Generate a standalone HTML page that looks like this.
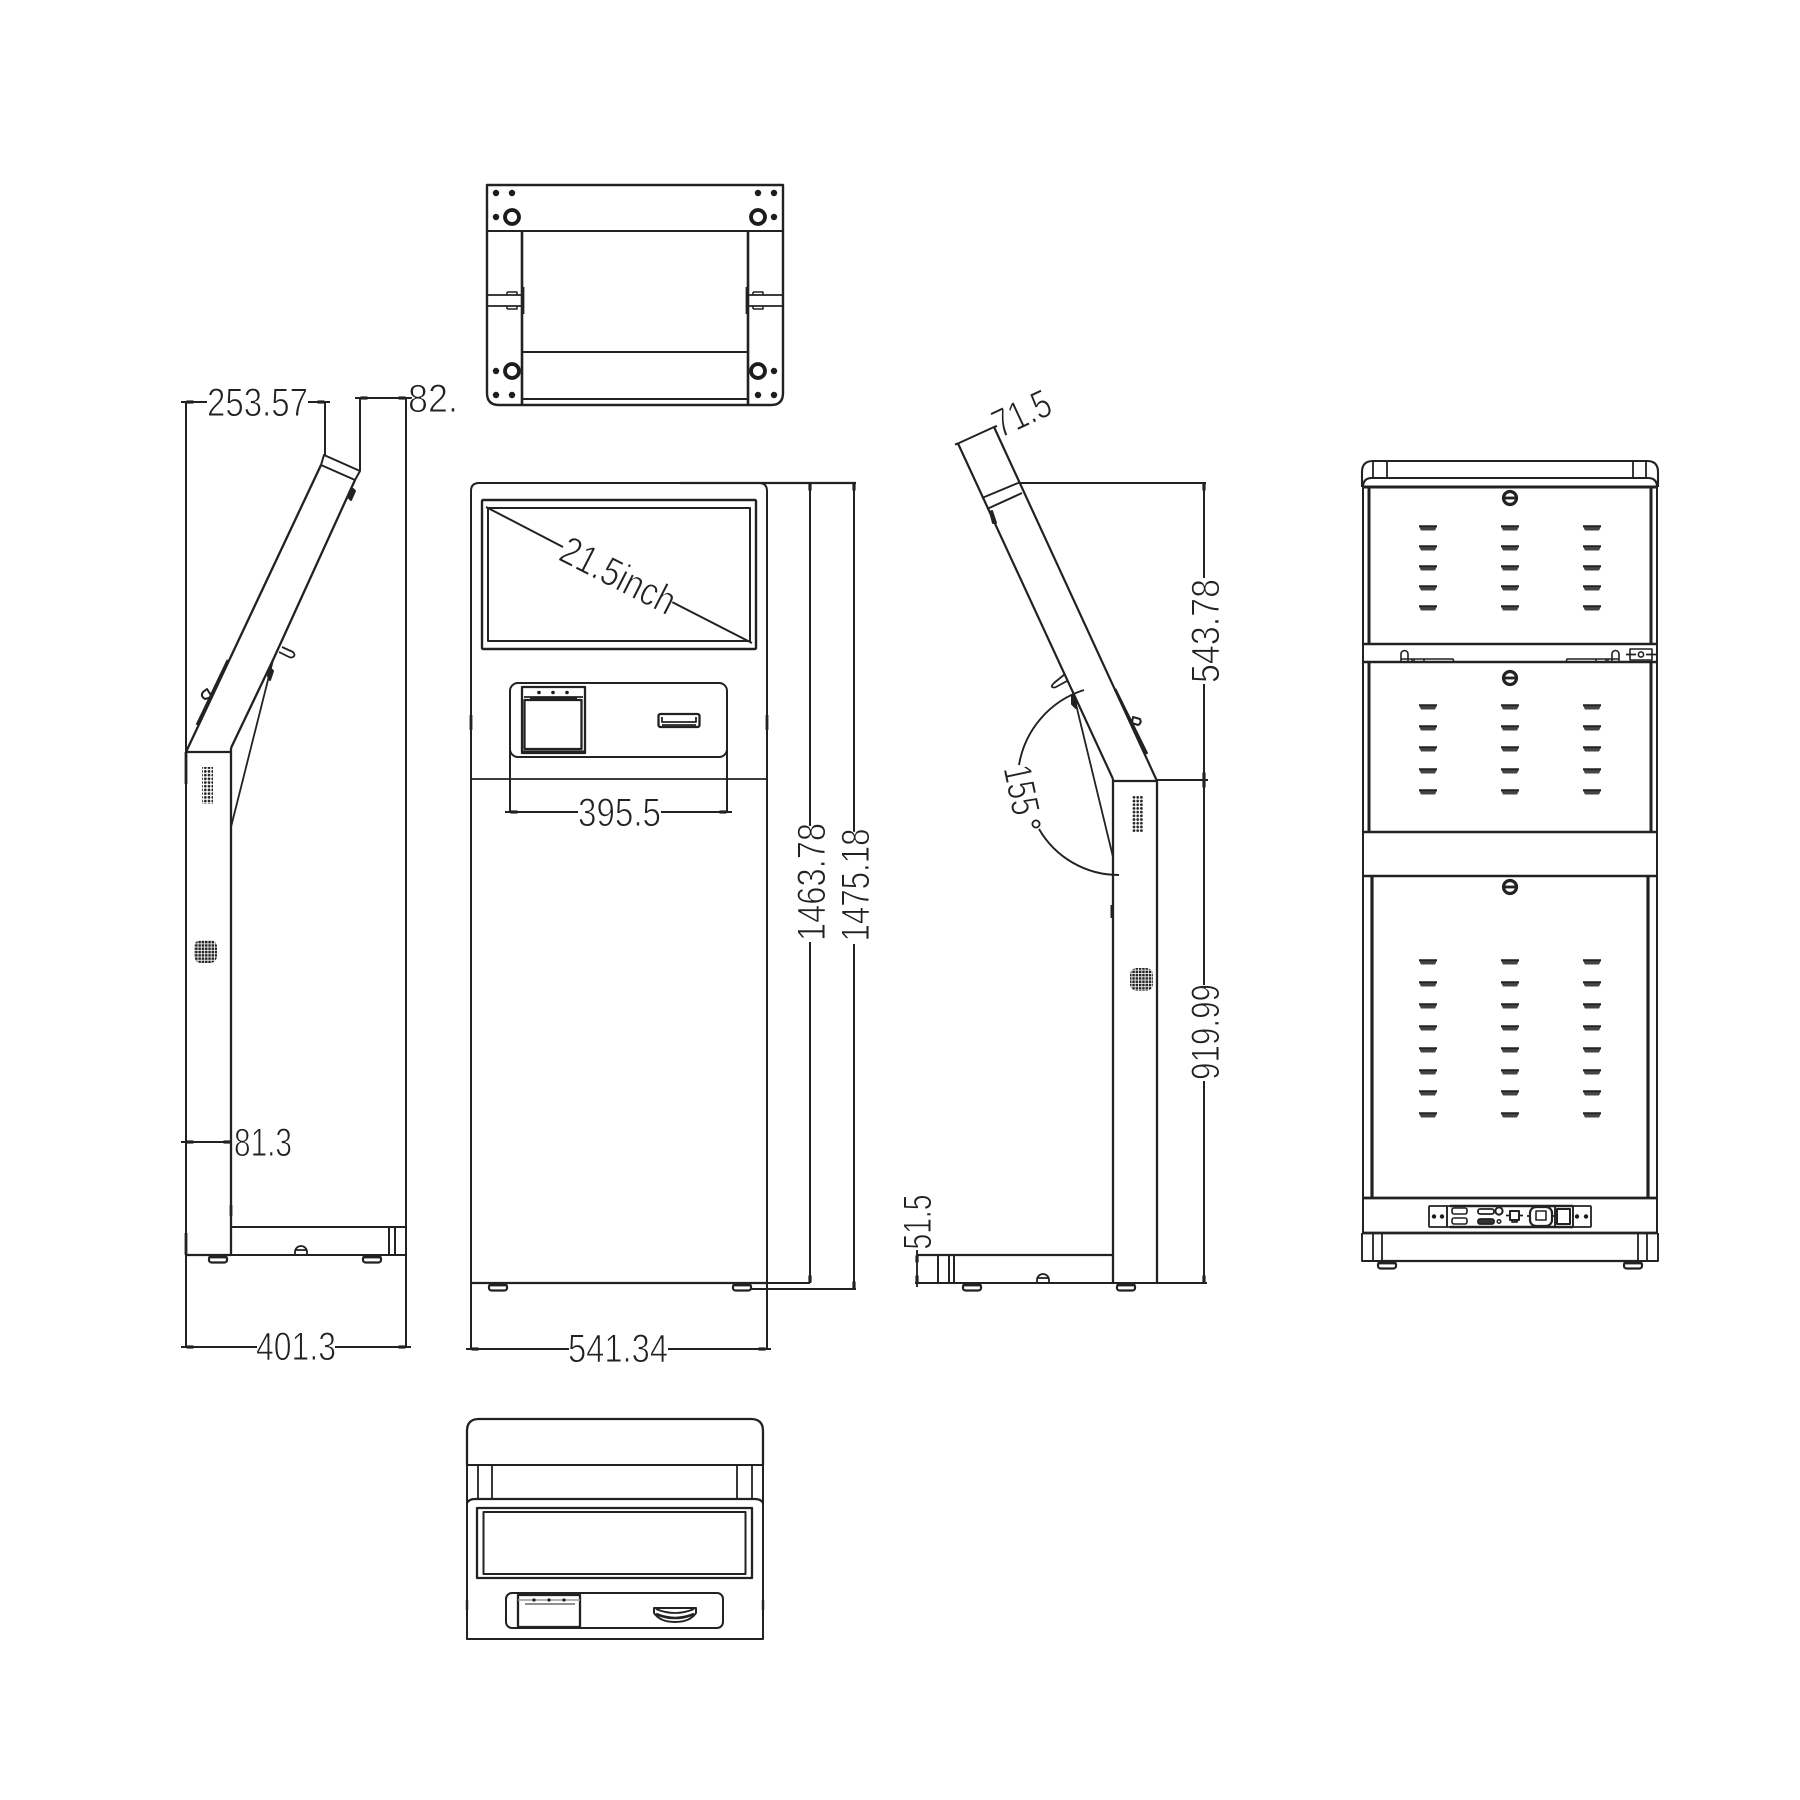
<!DOCTYPE html>
<html><head><meta charset="utf-8"><style>
html,body{margin:0;padding:0;background:#fff}
svg{display:block;filter:blur(.35px)}
.t{font-family:"Liberation Sans",sans-serif;font-size:40px;fill:#222;stroke:#fff;stroke-width:.95px}
</style></head><body>
<svg xmlns="http://www.w3.org/2000/svg" width="1800" height="1800" viewBox="0 0 1800 1800">
<defs>
<clipPath id="c82"><rect x="400" y="370" width="59" height="60"/></clipPath>
<g id="vent"><path d="M-9-1.5H9L7 2.5H-7Z" fill="#444"/><path d="M-9-1.8H9" stroke="#222" stroke-width="1.8"/></g>
<g id="knob"><circle r="6.5" fill="#fff" stroke="#222" stroke-width="3.2"/><path d="M-6 0H6" stroke="#222" stroke-width="2.8"/></g>
<g id="ring"><circle r="7" fill="#fff" stroke="#1c1c1c" stroke-width="3.8"/></g>
<g id="foot"><rect x="-9" y="0" width="18" height="6.5" rx="2.5" fill="#fff" stroke="#222" stroke-width="2.2"/><rect x="-8" y="0" width="16" height="2.4" fill="#222"/></g>
<pattern id="spk" width="3.7" height="3.7" patternUnits="userSpaceOnUse"><circle cx="1.8" cy="1.8" r="1.35" fill="#222"/></pattern>
<pattern id="spk2" width="3.3" height="3.3" patternUnits="userSpaceOnUse"><rect x=".4" y=".4" width="2.5" height="2.5" fill="#222"/></pattern>
<g id="v3"><use href="#vent" x="1428"/><use href="#vent" x="1510"/><use href="#vent" x="1592"/></g>
<g id="hd"><path d="M-3.5 0H3.5" stroke="#222" stroke-width="3.2"/></g>
<g id="vd"><path d="M0-3.5V3.5" stroke="#222" stroke-width="3.2"/></g>
</defs>

<g fill="none" stroke="#222" stroke-width="2" stroke-linecap="butt" stroke-linejoin="round">

<!-- TOP VIEW -->
<path d="M487 185H783V393Q783 405 771 405H499Q487 405 487 393Z" stroke-width="2.4"/>
<path d="M487 231H783"/>
<path d="M522 231V405M748 231V405" stroke-width="2.6"/>
<path d="M522 352H748M522 399H748"/>
<path d="M487 295H522M487 306H522M748 295H783M748 306H783" stroke-width="1.8"/>
<path d="M507 292H517V295M507 292V295M507 309H517V306M507 309V306M753 292H763V295M753 292V295M753 309H763V306M753 309V306" stroke-width="1.5"/>
<path d="M523 287V314M747 287V314" stroke-width="2.8"/>

<!-- LEFT SIDE VIEW -->
<path d="M181 402H207M308 402H330M355 398H406M406 398H412"/>
<path d="M186 402V1347M325 402V455M360 398V471M406 398V1347"/>
<path d="M324 455L360 471L355 480L321 465Z"/>
<path d="M321 465L186 752M355 480L273 660L231 748" stroke-width="2.3"/>
<path d="M273 660L231 827" stroke-width="1.8"/>
<path d="M186 752H231M231 748V1255M186 1255H231" stroke-width="2.3"/>
<path d="M231 1227H406M231 1255H406" stroke-width="2.1"/>
<path d="M389 1227V1255M395 1227V1255"/>
<path d="M295 1255V1252A6 6 0 0 1 307 1252V1255M295 1250H307" stroke-width="1.8"/>
<path d="M228 660L197 725" stroke-width="2.8"/>
<path d="M207 689L212 697L205 699Q200 696 203 692Z" stroke-width="2"/>
<path d="M282 647L293 652Q296 655 293 657Q291 658 289 657L279 652" stroke-width="1.8"/>
<path d="M270 668L273 671L270 680L268 676Z" fill="#222"/>
<path d="M353 489L355 491L351 500L349 498Z" fill="#222"/>
<path d="M186 752V784M186 1233V1255" stroke-width="2.8"/>
<path d="M231 1205V1216" stroke-width="2.8"/>
<path d="M181 1142H231" stroke-width="1.9"/>
<path d="M181 1347H257M335 1347H411"/>

<!-- FRONT VIEW -->
<path d="M471 1283V491Q471 483 479 483H759Q767 483 767 491V1349"/>
<path d="M471 779H767" stroke-width="1.8"/>
<path d="M471 1283H767" stroke-width="2.3"/>
<path d="M471 1283V1349"/>
<path d="M680 483H856" stroke-width="2.3"/>
<rect x="482" y="500" width="274" height="149" stroke-width="2.4" rx="1"/>
<rect x="488" y="508" width="262" height="133"/>
<path d="M486 507L563 547M672 602L752 643"/>
<rect x="510" y="683" width="217" height="74" rx="8"/>
<rect x="522" y="687" width="63" height="66" stroke-width="2.3"/>
<path d="M524 697H583" stroke-width="1.8"/>
<rect x="524.500" y="700" width="57" height="49" stroke-width="2.3"/>
<path d="M530 698H577" stroke-width="2.3"/>
<path d="M522 752H585" stroke-width="3.2"/>
<rect x="658.500" y="714" width="41" height="13" rx="2" stroke-width="2.3"/>
<path d="M662 717V722H696V717M662 725H696" stroke-width="1.8"/>
<path d="M510 727V812M727 727V812"/>
<path d="M505 812H578M661 812H732"/>
<path d="M471 715V730M767 715V730" stroke-width="2.8"/>
<path d="M810 483V826M810 942V1283M854 483V832M854 944V1289"/>
<path d="M750 1283H810M733 1289H856" stroke-width="1.9"/>
<path d="M466 1349H569M668 1349H771"/>

<!-- RIGHT SIDE VIEW -->
<path d="M955 444.500L958 443.500L994 427L997 426"/>
<path d="M958 443.500L1113 779M994 427L1157 781" stroke-width="2.2"/>
<path d="M982 498L1018 483M987 509L1022 493"/>
<path d="M1018 483H1206M1157 780H1208" stroke-width="1.9"/>
<path d="M1204 483V578M1204 684V985M1204 1081V1283"/>
<path d="M1113 781H1157M1157 781V1283M1113 779V1283" stroke-width="2.3"/>
<path d="M1073 692L1113 857" stroke-width="1.8"/>
<path d="M1084 690A95 95 0 0 0 1019 765M1039 829A92 92 0 0 0 1119 875" stroke-width="1.9"/>
<circle cx="1036" cy="824" r="3.6" stroke-width="1.8"/>
<path d="M1115 689L1147 754" stroke-width="2.8"/>
<path d="M1133 717L1140 719Q1142 723 1138 725L1132 723Z" stroke-width="2"/>
<path d="M1065 674L1054 683Q1051 686 1052 687Q1054 688 1056 687L1067 681" stroke-width="1.8"/>
<path d="M1072 695L1076 699L1076 708L1072 704Z" fill="#222"/>
<path d="M990 512L992 511L996 523L993 523Z" fill="#222"/>
<path d="M1112 905V918" stroke-width="3"/>
<path d="M917 1255H1113" stroke-width="2.3"/>
<path d="M915 1283H1207"/>
<path d="M938 1255V1283M949 1255V1283M954 1255V1283"/>
<path d="M917 1250V1287" stroke-width="1.9"/>
<path d="M1037 1283V1280A6 6 0 0 1 1049 1280V1283M1037 1278H1049" stroke-width="1.8"/>

<!-- BACK VIEW -->
<path d="M1362 487V472Q1362 461 1373 461H1647Q1658 461 1658 472V487" stroke-width="2.1"/>
<path d="M1373 461V478M1387 461V478M1633 461V478M1646 461V478" stroke-width="1.8"/>
<path d="M1363 487Q1363 478 1372 478H1648Q1657 478 1657 487" stroke-width="2.1"/>
<path d="M1363 487H1657" stroke-width="3"/>
<path d="M1363 487V876M1657 487V876" stroke-width="2"/>
<path d="M1369 487V644M1651 487V644M1369 662V832M1651 662V832" stroke-width="3"/>
<path d="M1363 644H1657M1363 662H1657M1363 832H1657M1363 876H1657" stroke-width="2.6"/>
<path d="M1363 876V1233M1657 876V1233" stroke-width="2"/>
<path d="M1372 876V1198M1648 876V1198" stroke-width="3.2"/>
<path d="M1362 1198H1658M1362 1233H1658" stroke-width="2.8"/>
<path d="M1362 1233V1261H1658V1233" stroke-width="1.9"/>
<path d="M1373 1233V1261M1382 1233V1261M1638 1233V1261M1647 1233V1261" stroke-width="1.8"/>
<path d="M1382 1261H1638" stroke-width="2.3"/>
<!-- hinges -->
<path d="M1401 661V654A3.500 3.500 0 0 1 1408 654V661M1401 659H1412V662M1412 659H1453Q1453 659 1454 662M1414 659V662M1424 659V662" stroke-width="1.6"/>
<path d="M1619 661V654A3.500 3.500 0 0 0 1612 654V661M1619 659H1608V662M1608 659H1567Q1567 659 1566 662M1606 659V662M1596 659V662" stroke-width="1.6"/>
<rect x="1630" y="649" width="22" height="11" stroke-width="1.6"/>
<circle cx="1641" cy="654.500" r="2.6" stroke-width="1.6"/>
<path d="M1626 654.500H1636M1646 654.500H1656" stroke-width="1.8"/>
<!-- IO panel -->
<path d="M1430 1206H1590Q1591 1206 1591 1207V1226Q1591 1227 1590 1227H1430Q1429 1227 1429 1226V1207Q1429 1206 1430 1206Z" stroke-width="1.8"/>
<path d="M1447 1206V1227M1555 1206V1227M1573 1206V1227" stroke-width="1.9"/>
<path d="M1450 1206H1573M1450 1227H1573" stroke-width="2.4"/>
<rect x="1452" y="1208" width="15" height="6" rx="2" stroke-width="1.6"/>
<rect x="1452" y="1218" width="15" height="6" rx="2" stroke-width="1.6"/>
<rect x="1478" y="1209" width="16" height="5" rx="2" stroke-width="1.8"/>
<rect x="1478" y="1219" width="16" height="5" rx="2" fill="#333" stroke-width="1.8"/>
<circle cx="1499" cy="1211" r="3.600" stroke-width="2"/>
<circle cx="1499" cy="1221.500" r="1.800" stroke-width="1.5"/>
<rect x="1510" y="1211" width="9" height="9" stroke-width="2"/>
<path d="M1506 1215.500H1510M1519 1215.500H1523M1512 1220H1517V1222H1512Z" stroke-width="1.8"/>
<rect x="1530" y="1207" width="22" height="19" rx="6" stroke-width="2.2"/>
<path d="M1536 1211H1546V1220H1536Z" stroke-width="1.6"/>
<path d="M1527 1216H1530M1552 1216H1556" stroke-width="1.8"/>
<rect x="1557" y="1209" width="13" height="15" stroke-width="2"/>
<!-- BOTTOM VIEW -->
<path d="M467 1465V1431Q467 1419 479 1419H751Q763 1419 763 1431V1465" stroke-width="2.3"/>
<path d="M467 1465H763"/>
<path d="M467 1465V1639H763V1465"/>
<path d="M478 1465V1499M492 1465V1499M737 1465V1499M752 1465V1499" stroke-width="1.8"/>
<path d="M467 1503Q469 1499 475 1499H755Q761 1499 763 1503" stroke-width="2.2"/>
<rect x="477" y="1508" width="275" height="70" stroke-width="2.3"/>
<rect x="483.500" y="1512" width="262" height="62"/>
<rect x="506" y="1593" width="217" height="35" rx="6"/>
<path d="M518 1628V1595H580V1628M518 1627H580" stroke-width="2.3"/>
<path d="M518 1600H580" stroke-width="1.4" stroke="#999"/>
<path d="M525 1604H575" stroke-width="1"/>
<path d="M654 1608H696V1613Q690 1622 675 1622Q660 1622 654 1613Z"/>
<path d="M656 1609Q675 1617 694 1609" stroke-width="1.8"/>
<path d="M656 1614Q675 1622 694 1614" stroke-width="2.6"/>
<path d="M467 1600V1610M763 1600V1610" stroke-width="2.4"/>
</g>

<!-- dots top view -->
<g fill="#1c1c1c">
<circle cx="496" cy="193" r="3.2"/><circle cx="512" cy="193" r="3.2"/><circle cx="758" cy="193" r="3.2"/><circle cx="774" cy="193" r="3.2"/>
<circle cx="496" cy="217" r="3.2"/><circle cx="774" cy="217" r="3.2"/>
<circle cx="496" cy="371" r="3.2"/><circle cx="774" cy="371" r="3.2"/>
<circle cx="496" cy="395" r="3.2"/><circle cx="512" cy="395" r="3.2"/><circle cx="758" cy="395" r="3.2"/><circle cx="774" cy="395" r="3.2"/>
<circle cx="539" cy="692.500" r="1.800"/><circle cx="553" cy="692.500" r="1.800"/><circle cx="567" cy="692.500" r="1.800"/>
<circle cx="534" cy="1600" r="1.600"/><circle cx="549" cy="1600" r="1.600"/><circle cx="564" cy="1600" r="1.600"/>
<circle cx="1434" cy="1216.500" r="2.2"/><circle cx="1442" cy="1216.500" r="2.2"/><circle cx="1577" cy="1216.500" r="2.2"/><circle cx="1586" cy="1216.500" r="2.2"/>
</g>
<use href="#ring" x="512" y="217"/><use href="#ring" x="758" y="217"/><use href="#ring" x="512" y="371"/><use href="#ring" x="758" y="371"/>

<!-- feet -->
<use href="#foot" x="218" y="1256"/><use href="#foot" x="372" y="1256"/>
<use href="#foot" x="498" y="1284"/><use href="#foot" x="742" y="1284"/>
<use href="#foot" x="972" y="1284"/><use href="#foot" x="1126" y="1284"/>
<use href="#foot" x="1387" y="1262"/><use href="#foot" x="1633" y="1262"/>

<!-- speakers -->
<rect x="202" y="767" width="11" height="37" fill="url(#spk)"/>
<rect x="1132" y="796" width="11" height="37" fill="url(#spk)"/>
<rect x="194" y="940" width="23" height="23" rx="7" fill="url(#spk2)"/>
<rect x="1130" y="968" width="23" height="23" rx="7" fill="url(#spk2)"/>

<!-- back vents & knobs -->
<use href="#knob" x="1510" y="498"/><use href="#knob" x="1510" y="678"/><use href="#knob" x="1510" y="887"/>
<use href="#v3" y="528"/><use href="#v3" y="548"/><use href="#v3" y="568"/><use href="#v3" y="588"/><use href="#v3" y="608"/>
<use href="#v3" y="707"/><use href="#v3" y="728"/><use href="#v3" y="749"/><use href="#v3" y="771"/><use href="#v3" y="792"/>
<use href="#v3" y="962"/><use href="#v3" y="984"/><use href="#v3" y="1006"/><use href="#v3" y="1028"/><use href="#v3" y="1050"/><use href="#v3" y="1072"/><use href="#v3" y="1093"/><use href="#v3" y="1115"/>

<!-- dimension arrow ticks -->
<use href="#hd" x="190" y="402"/><use href="#hd" x="321" y="402"/><use href="#hd" x="364" y="398"/><use href="#hd" x="402" y="398"/>
<use href="#hd" x="190" y="1347"/><use href="#hd" x="402" y="1347"/><use href="#hd" x="190" y="1142"/><use href="#hd" x="227" y="1142"/>
<use href="#hd" x="514" y="812"/><use href="#hd" x="723" y="812"/><use href="#hd" x="475" y="1349"/><use href="#hd" x="762" y="1349"/>
<use href="#vd" x="810" y="487"/><use href="#vd" x="854" y="487"/><use href="#vd" x="810" y="1279"/><use href="#vd" x="854" y="1285"/>
<use href="#vd" x="1204" y="487"/><use href="#vd" x="1204" y="776"/><use href="#vd" x="1204" y="784"/><use href="#vd" x="1204" y="1279"/>
<use href="#vd" x="917" y="1259"/><use href="#vd" x="917" y="1279"/>

<!-- labels -->
<text class="t" x="207" y="416" textLength="101" lengthAdjust="spacingAndGlyphs">253.57</text>
<text class="t" x="408" y="412" textLength="70" lengthAdjust="spacingAndGlyphs" clip-path="url(#c82)">82.9</text>
<text class="t" x="234" y="1156" textLength="58" lengthAdjust="spacingAndGlyphs">81.3</text>
<text class="t" x="256" y="1360" textLength="80" lengthAdjust="spacingAndGlyphs">401.3</text>
<text class="t" x="578" y="826" textLength="83" lengthAdjust="spacingAndGlyphs">395.5</text>
<text class="t" x="568" y="1362" textLength="100" lengthAdjust="spacingAndGlyphs">541.34</text>
<text class="t" text-anchor="middle" y="13" transform="translate(618 576) rotate(27)" textLength="124" lengthAdjust="spacingAndGlyphs">21.5inch</text>
<text class="t" text-anchor="middle" y="13" transform="translate(1022 414) rotate(-25)" textLength="60" lengthAdjust="spacingAndGlyphs">71.5</text>
<text class="t" text-anchor="middle" y="13" transform="translate(1021 790) rotate(78)" textLength="50" lengthAdjust="spacingAndGlyphs">155</text>
<text class="t" text-anchor="middle" transform="translate(825 882) rotate(-90)" textLength="118" lengthAdjust="spacingAndGlyphs">1463.78</text>
<text class="t" text-anchor="middle" transform="translate(869 885) rotate(-90)" textLength="113" lengthAdjust="spacingAndGlyphs">1475.18</text>
<text class="t" text-anchor="middle" transform="translate(1219 631) rotate(-90)" textLength="104" lengthAdjust="spacingAndGlyphs">543.78</text>
<text class="t" text-anchor="middle" transform="translate(1219 1032) rotate(-90)" textLength="96" lengthAdjust="spacingAndGlyphs">919.99</text>
<text class="t" text-anchor="middle" transform="translate(931 1222) rotate(-90)" textLength="55" lengthAdjust="spacingAndGlyphs">51.5</text>
</svg>
</body></html>
